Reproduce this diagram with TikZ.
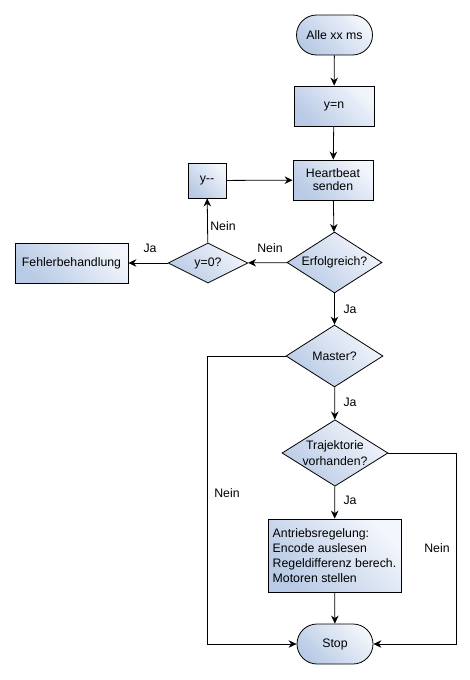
\documentclass[tikz,border=0pt]{standalone}
\usepackage{fontspec}
\setmainfont{Liberation Sans}
\usetikzlibrary{shapes.geometric,shapes.misc,arrows.meta}
\definecolor{gl}{HTML}{F2F5FB}
\definecolor{gd}{HTML}{B8CAE5}
\tikzset{
  base/.style={draw=black, line width=0.8pt, left color=gl, right color=gd, shading angle=-45, font=\fontsize{12.3}{16}\selectfont, inner sep=2pt},
  term/.style={base, rounded rectangle, minimum width=80pt, minimum height=40pt},
  proc/.style={base, rectangle, minimum width=80pt, minimum height=40pt},
  dec/.style={base, diamond, aspect=1.55, inner sep=0pt},
  conn/.style={line width=0.8pt, -{Stealth[length=8pt,width=7.5pt]}},
  lab/.style={font=\fontsize{12.3}{14}\selectfont, inner sep=0pt}
}
\begin{document}
\begin{tikzpicture}[x=1pt,y=-1pt]
\useasboundingbox (0,0) rectangle (470,680);
\node[term] (start) at (334.5,35) {Alle xx ms};
\node[proc] (yn) at (334,106) {y=n};
\node[proc] (hb) at (333,180) {\shortstack{Heartbeat\\[1pt]senden}};
\node[proc, minimum width=38pt, minimum height=35pt] (ydec) at (207,180.5) {y-{}-};
\node[dec, minimum width=95pt, minimum height=61pt] (erf) at (334.5,262.5) {Erfolgreich?};
\node[dec, minimum width=80pt, minimum height=40pt] (y0) at (208,263) {y=0?};
\node[proc, minimum width=113pt, minimum height=40pt] (fehl) at (71.5,263) {Fehlerbehandlung};
\node[dec, minimum width=97pt, minimum height=62pt] (master) at (334.5,356) {Master?};
\node[dec, minimum width=106pt, minimum height=66pt] (traj) at (335,453) {\shortstack{Trajektorie\\[1pt]vorhanden?}};
\node[proc, minimum width=133pt, minimum height=73pt, align=left, font=\fontsize{12.3}{15}\selectfont] (antr) at (334.5,555.5) {Antriebsregelung:\\Encode auslesen\\Regeldifferenz berech.\\Motoren stellen};
\node[term] (stop) at (335,644) {Stop};
\coordinate (ml) at (207,356);
\coordinate (mb) at (207,644);
\coordinate (tr) at (456,453);
\coordinate (tb) at (456,644);

\draw[conn] (start) -- (yn);
\draw[conn] (yn) -- (hb);
\draw[conn] (hb) -- (erf);
\draw[conn] (erf) -- (y0);
\draw[conn] (y0) -- (ydec);
\draw[conn] (ydec) -- (hb);
\draw[conn] (y0) -- (fehl);
\draw[conn] (erf) -- (master);
\draw[conn] (master) -- (traj);
\draw[conn] (traj) -- (antr);
\draw[conn] (antr) -- (stop);
\draw[conn] (master.west) -- (ml) -- (mb) -- (stop.west);
\draw[conn] (traj.east) -- (tr) -- (tb) -- (stop.east);

\node[lab] (l1) at (270,248) {Nein};
\node[lab] (l2) at (223,226) {Nein};
\node[lab] (l3) at (150,248) {Ja};
\node[lab] (l4) at (350,309) {Ja};
\node[lab] (l5) at (350,402) {Ja};
\node[lab] (l6) at (350,500) {Ja};
\node[lab] (l7) at (227,493) {Nein};
\node[lab] (l8) at (437,548) {Nein};
\end{tikzpicture}
\end{document}
